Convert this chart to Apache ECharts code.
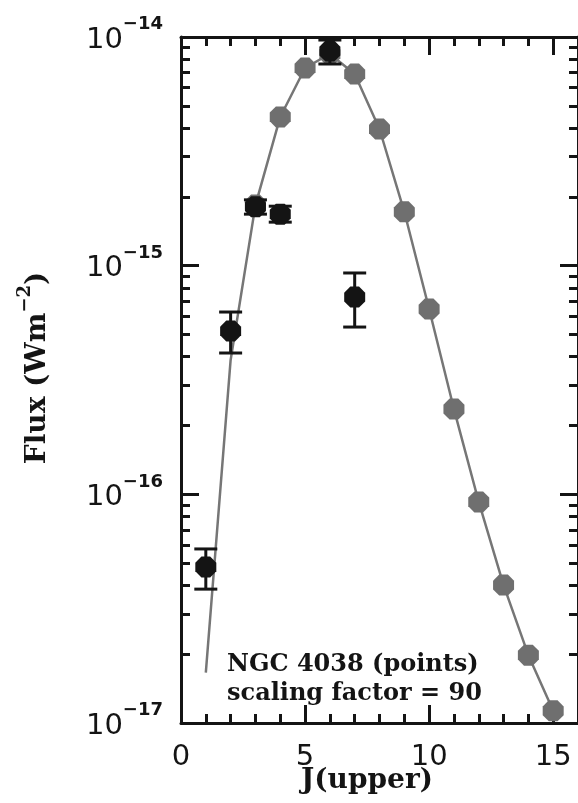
<!DOCTYPE html>
<html>
<head>
<meta charset="utf-8">
<script src="https://cdn.jsdelivr.net/npm/echarts@6/dist/echarts.min.js"></script>
<style>
  html, body { margin: 0; padding: 0; background: #fff; }
  #chart { width: 578px; height: 803px; }
</style>
</head>
<body>
<div id="chart"></div>
<script>
// CO rotational ladder: model curve (grey) and NGC 4038 line fluxes (black)
const J_MODEL = [1, 2, 3, 4, 5, 6, 7, 8, 9, 10, 11, 12, 13, 14, 15];
const MODEL_FLUX = [1.66e-17, 3.87e-16, 1.84e-15, 4.47e-15, 7.32e-15, 8.43e-15, 6.89e-15,
                    3.96e-15, 1.72e-15, 6.46e-16, 2.36e-16, 9.26e-17, 4.01e-17, 1.98e-17, 1.13e-17];
const MODEL_MARKER_FROM = 3;

const J_OBS = [1, 2, 3, 4, 6, 7];
const OBS_FLUX = [4.81e-17, 5.18e-16, 1.81e-15, 1.68e-15, 8.68e-15, 7.29e-16];
const OBS_HIGH = [5.77e-17, 6.27e-16, 1.94e-15, 1.82e-15, 9.70e-15, 9.29e-16];
const OBS_LOW  = [3.85e-17, 4.15e-16, 1.68e-15, 1.55e-15, 7.62e-15, 5.39e-16];

const X_MAJOR = [0, 5, 10, 15];
const X_MINOR = [1, 2, 3, 4, 6, 7, 8, 9, 11, 12, 13, 14, 16];
const Y_MIN = 1e-17, Y_MAX = 1e-14;
const DECADE_EXPONENTS = [-17, -16, -15];

// minor log ticks (2..9 x 10^n) expressed on a log10 value axis
const Y_MINOR_LOG = [];
DECADE_EXPONENTS.forEach(function (n) {
  for (let k = 2; k <= 9; k++) Y_MINOR_LOG.push(n + Math.log10(k));
});

const OCTAGON = 'path://M0.707,0 L1.707,0 L2.414,0.707 L2.414,1.707 L1.707,2.414 L0.707,2.414 L0,1.707 L0,0.707 Z';
const INK = '#141414';
const GREY = '#6f6f6f';

const tickStyle = { color: INK, width: 3 };
const lineStyle = { color: INK, width: 3 };

function majorX(position, showLabel) {
  return {
    type: 'value', position: position, min: 0, max: 16, gridIndex: 0,
    axisLine: { show: true, onZero: false, lineStyle: lineStyle },
    axisTick: { show: true, inside: true, length: 18, lineStyle: tickStyle, customValues: X_MAJOR },
    axisLabel: {
      show: showLabel, customValues: X_MAJOR, margin: 20,
      fontFamily: 'DejaVu Sans', fontSize: 29, color: INK
    },
    splitLine: { show: false }
  };
}
function minorX(position) {
  return {
    type: 'value', position: position, min: 0, max: 16, gridIndex: 0,
    axisLine: { show: false, onZero: false },
    axisTick: { show: true, inside: true, length: 9, lineStyle: tickStyle, customValues: X_MINOR },
    axisLabel: { show: false },
    splitLine: { show: false }
  };
}
function majorY(position, showLabel) {
  return {
    type: 'log', logBase: 10, position: position, min: Y_MIN, max: Y_MAX, gridIndex: 0,
    axisLine: { show: true, onZero: false, lineStyle: lineStyle },
    axisTick: { show: true, inside: true, length: 18, lineStyle: tickStyle },
    axisLabel: {
      show: showLabel, margin: 18, padding: [6, 0, 0, 0],
      formatter: function (v) {
        const e = Math.round(Math.log10(v));
        return '{a|10}{b|' + (e < 0 ? '\u2212' : '') + Math.abs(e) + '}';
      },
      rich: {
        a: { fontFamily: 'DejaVu Sans', fontSize: 29, color: INK, lineHeight: 49 },
        b: { fontFamily: 'DejaVu Sans', fontWeight: 'bold', fontSize: 18, color: INK, lineHeight: 18, verticalAlign: 'top' }
      }
    },
    splitLine: { show: false }
  };
}
function minorY(position) {
  return {
    type: 'value', position: position, min: -17, max: -14, gridIndex: 0,
    axisLine: { show: false, onZero: false },
    axisTick: { show: true, inside: true, length: 9, lineStyle: tickStyle, customValues: Y_MINOR_LOG },
    axisLabel: { show: false },
    splitLine: { show: false }
  };
}

const modelLine = J_MODEL.map(function (j, i) { return [j, MODEL_FLUX[i]]; });
const modelMarkers = modelLine.filter(function (p) { return p[0] >= MODEL_MARKER_FROM; });
const obsPoints = J_OBS.map(function (j, i) { return [j, OBS_FLUX[i]]; });
const obsBars = J_OBS.map(function (j, i) { return [j, OBS_LOW[i], OBS_HIGH[i]]; });

const chart = echarts.init(document.getElementById('chart'), null, { renderer: 'canvas' });
chart.setOption({
  backgroundColor: '#ffffff',
  animation: false,
  grid: { left: 181, top: 37, width: 400, height: 686 },
  xAxis: [majorX('bottom', true), majorX('top', false), minorX('bottom'), minorX('top')],
  yAxis: [majorY('left', true), majorY('right', false), minorY('left'), minorY('right')],
  series: [
    {
      type: 'line', xAxisIndex: 0, yAxisIndex: 0, data: modelLine,
      showSymbol: false, symbol: 'none',
      lineStyle: { color: '#767676', width: 2.5 }, z: 2
    },
    {
      type: 'scatter', xAxisIndex: 0, yAxisIndex: 0, data: modelMarkers,
      symbol: OCTAGON, symbolSize: 21,
      itemStyle: { color: GREY, opacity: 1 }, z: 3
    },
    {
      type: 'custom', xAxisIndex: 0, yAxisIndex: 0, data: obsBars, z: 4,
      renderItem: function (params, api) {
        const x = api.value(0);
        const lo = api.coord([x, api.value(1)]);
        const hi = api.coord([x, api.value(2)]);
        const hw = 11.5;
        const st = { stroke: INK, lineWidth: 3 };
        return {
          type: 'group',
          children: [
            { type: 'line', shape: { x1: lo[0], y1: lo[1], x2: hi[0], y2: hi[1] }, style: st },
            { type: 'line', shape: { x1: lo[0] - hw, y1: lo[1], x2: lo[0] + hw, y2: lo[1] }, style: st },
            { type: 'line', shape: { x1: hi[0] - hw, y1: hi[1], x2: hi[0] + hw, y2: hi[1] }, style: st }
          ]
        };
      }
    },
    {
      type: 'scatter', xAxisIndex: 0, yAxisIndex: 0, data: obsPoints,
      symbol: OCTAGON, symbolSize: 21,
      itemStyle: { color: INK, opacity: 1 }, z: 5
    }
  ],
  graphic: [
    {
      type: 'text', x: 38, y: 368, rotation: Math.PI / 2,
      style: {
        text: '{a|Flux (Wm}{b|\u22122}{a|)}',
        align: 'center', verticalAlign: 'middle',
        rich: {
          a: { fontFamily: 'DejaVu Serif', fontWeight: 'bold', fontSize: 28, fill: INK, lineHeight: 44 },
          b: { fontFamily: 'DejaVu Serif', fontWeight: 'bold', fontSize: 18, fill: INK, lineHeight: 18, verticalAlign: 'top' }
        }
      }
    },
    {
      type: 'text', x: 367, y: 781,
      style: {
        text: 'J(upper)', align: 'center', verticalAlign: 'middle',
        font: 'bold 28px "DejaVu Serif"', fill: INK
      }
    },
    {
      type: 'text', x: 227, y: 665,
      style: {
        text: 'NGC 4038 (points)', align: 'left', verticalAlign: 'middle',
        font: 'bold 24px "DejaVu Serif"', fill: INK
      }
    },
    {
      type: 'text', x: 227, y: 694,
      style: {
        text: 'scaling factor = 90', align: 'left', verticalAlign: 'middle',
        font: 'bold 24px "DejaVu Serif"', fill: INK
      }
    }
  ]
});
</script>
</body>
</html>
